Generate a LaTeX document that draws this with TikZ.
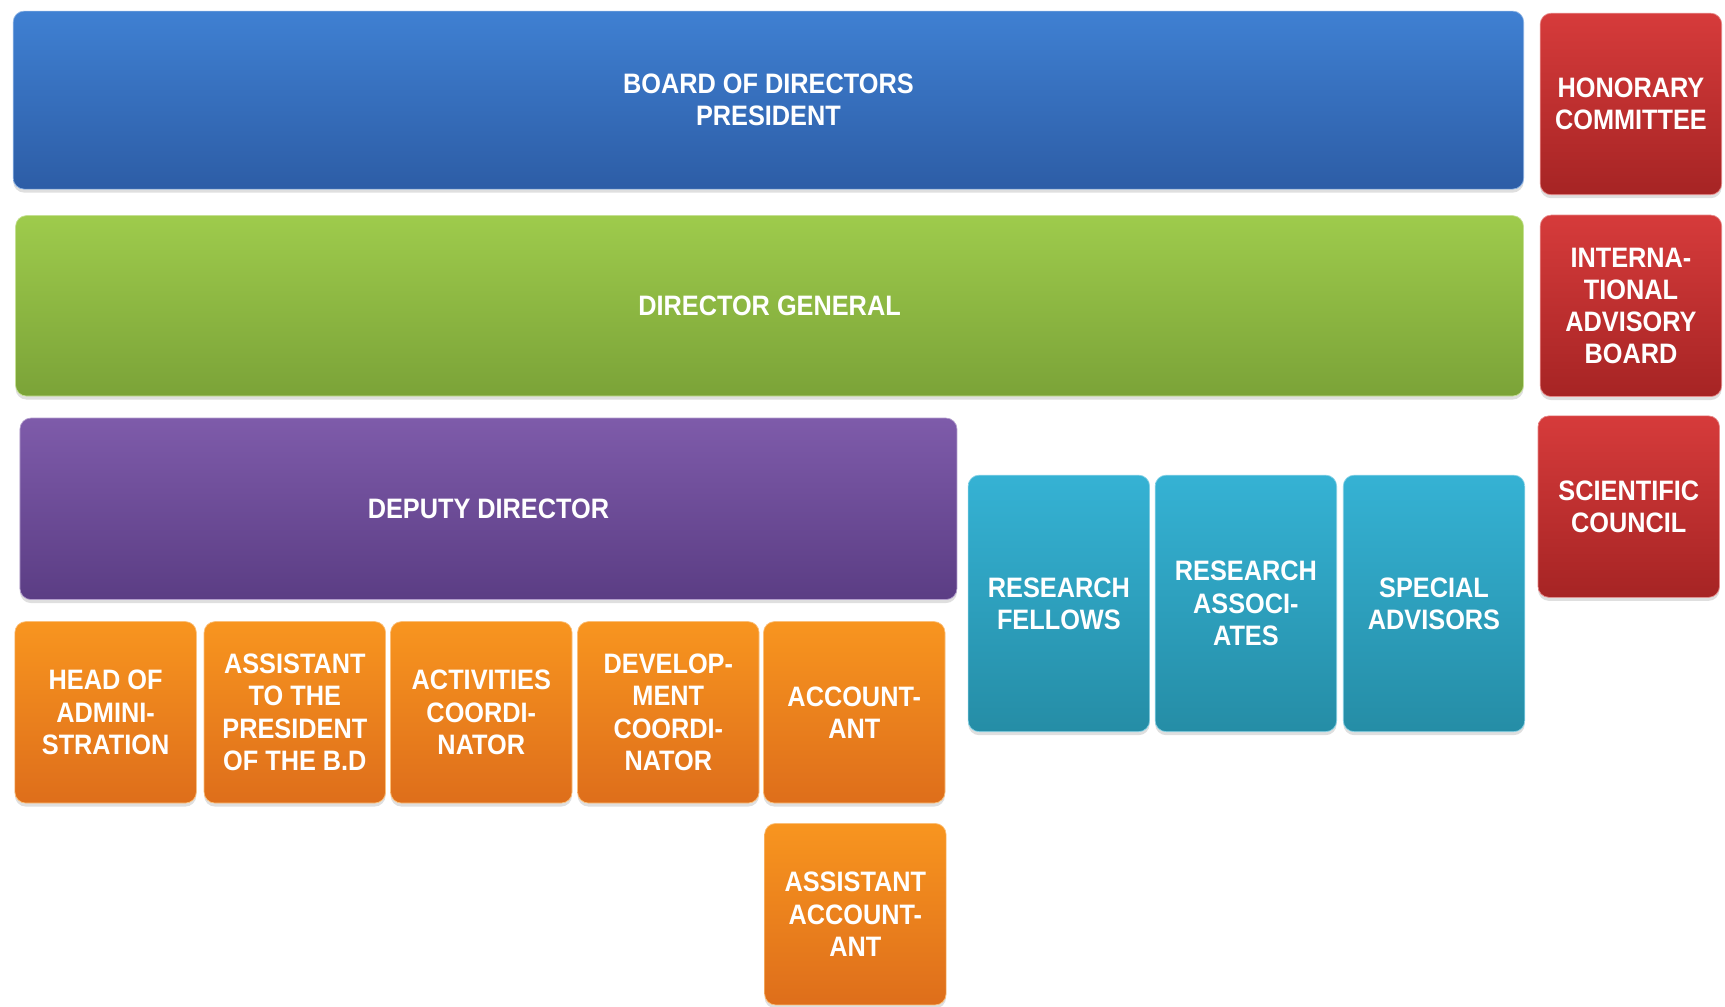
\documentclass[tikz,border=0pt]{standalone}
\usepackage{fontspec}
\setmainfont{Liberation Sans}[FakeStretch=0.9]
\usetikzlibrary{shadows}

\definecolor{blueT}{HTML}{3F80D2}
\definecolor{blueB}{HTML}{2D5DA6}
\definecolor{greenT}{HTML}{9ECB4C}
\definecolor{greenB}{HTML}{7BA338}
\definecolor{purpleT}{HTML}{7E5BAA}
\definecolor{purpleB}{HTML}{5B3D84}
\definecolor{redT}{HTML}{D63B3B}
\definecolor{redB}{HTML}{A62424}
\definecolor{orangeT}{HTML}{F8951F}
\definecolor{orangeB}{HTML}{DE6E1B}
\definecolor{tealT}{HTML}{35B2D4}
\definecolor{tealB}{HTML}{258DA6}

\begin{document}
\begin{tikzpicture}[x=0.022cm, y=-0.022cm,
    box/.style={rectangle, rounded corners=0.22cm, inner sep=0pt, align=center,
      text=white, font=\bfseries\fontsize{16}{18.3}\selectfont,
      drop shadow={opacity=0.25, shadow xshift=0pt, shadow yshift=-2pt}},
    small/.style={box, minimum width=3.63cm, minimum height=3.63cm},
    blueBox/.style={box, top color=blueT, bottom color=blueB, draw=blueT!60!white},
    greenBox/.style={box, top color=greenT, bottom color=greenB, draw=greenT!60!white},
    purpleBox/.style={box, top color=purpleT, bottom color=purpleB, draw=purpleT!60!white},
    redBox/.style={small, top color=redT, bottom color=redB, draw=redT!60!white},
    orangeBox/.style={small, top color=orangeT, bottom color=orangeB, draw=orangeT!60!white},
    tealBox/.style={small, minimum height=5.13cm, top color=tealT, bottom color=tealB, draw=tealT!60!white}]
  \useasboundingbox (0,0) rectangle (1568,914.5);

  % top rows
  \node[blueBox, minimum width=30.21cm, minimum height=3.56cm] (board) at (698.5,91)
    {BOARD OF DIRECTORS\\PRESIDENT};
  \node[greenBox, minimum width=30.16cm, minimum height=3.61cm] (dirgen) at (699.5,278)
    {DIRECTOR GENERAL};
  \node[purpleBox, minimum width=18.74cm, minimum height=3.63cm] (deputy) at (444,462.5)
    {DEPUTY DIRECTOR};

  % councils
  \node[redBox] (honorary) at (1482.5,94.5) {HONORARY\\COMMITTEE};
  \node[redBox] (advisory) at (1482.5,278) {INTERNA-\\TIONAL\\ADVISORY\\BOARD};
  \node[redBox] (scientific) at (1480.5,460.5) {SCIENTIFIC\\COUNCIL};

  % staff
  \node[orangeBox] (admin) at (96,647.5) {HEAD OF\\ADMINI-\\STRATION};
  \node[orangeBox] (assistant) at (268,647.5) {ASSISTANT\\TO THE\\PRESIDENT\\OF THE B.D};
  \node[orangeBox] (activities) at (437.5,647.5) {ACTIVITIES\\COORDI-\\NATOR};
  \node[orangeBox] (development) at (607.5,647.5) {DEVELOP-\\MENT\\COORDI-\\NATOR};
  \node[orangeBox] (accountant) at (776.5,647.5) {ACCOUNT-\\ANT};
  \node[orangeBox] (asstaccountant) at (777.5,831) {ASSISTANT\\ACCOUNT-\\ANT};

  % research
  \node[tealBox] (fellows) at (962.5,548.5) {RESEARCH\\FELLOWS};
  \node[tealBox] (associates) at (1132.5,548.5) {RESEARCH\\ASSOCI-\\ATES};
  \node[tealBox] (advisors) at (1303.5,548.5) {SPECIAL\\ADVISORS};
\end{tikzpicture}
\end{document}
